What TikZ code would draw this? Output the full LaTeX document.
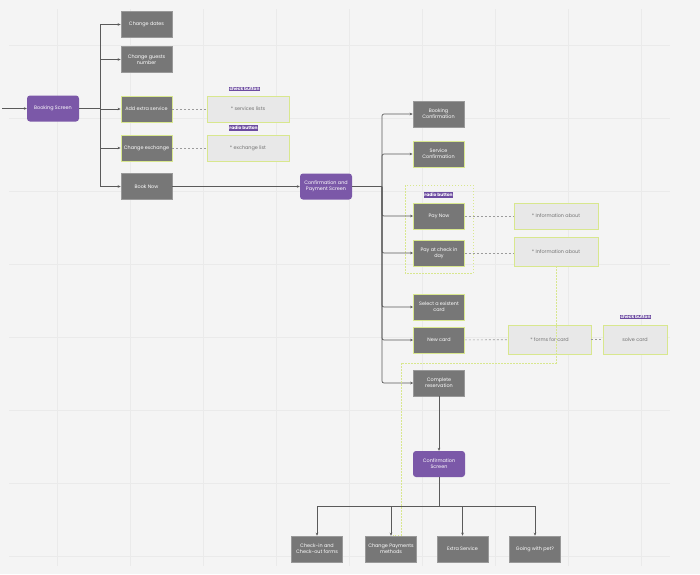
\documentclass[tikz,border=0pt]{standalone}
\usepackage{fontspec}
\setmainfont{Poppins}
\usetikzlibrary{arrows.meta, positioning}

\definecolor{bggray}{HTML}{F4F4F4}
\definecolor{gridgray}{HTML}{EAEAEA}
\definecolor{boxgray}{HTML}{777777}
\definecolor{screenpurple}{HTML}{7B58A8}
\definecolor{tagpurple}{HTML}{6C4BA0}
\definecolor{infofill}{HTML}{E8E8E8}
\definecolor{limeedge}{HTML}{D8E78E}
\definecolor{linegray}{HTML}{5A5A5A}
\definecolor{dashgray}{HTML}{9B9B9B}

\begin{document}
\begin{tikzpicture}[x=1pt, y=-1pt,
  every node/.style={font=\fontsize{4.9}{6}\selectfont, align=center, inner sep=1pt},
  screen/.style={fill=screenpurple, text=white, rounded corners=3pt, minimum width=52pt, minimum height=26pt},
  action/.style={fill=boxgray, draw=boxgray!75!white, line width=0.6pt, text=white, minimum width=51pt, minimum height=26pt},
  picked/.style={action, draw=limeedge, line width=0.9pt},
  info/.style={fill=infofill, draw=limeedge, line width=0.8pt, text=black!55, minimum width=82pt, minimum height=26pt},
  tag/.style={fill=tagpurple, text=white, font=\fontsize{4.4}{4.6}\selectfont\bfseries, inner sep=0.8pt},
  flow/.style={draw=linegray, line width=0.7pt, -{Stealth[length=3pt, width=2.6pt]}},
  wire/.style={draw=linegray, line width=0.7pt},
  dashlink/.style={draw=dashgray, line width=0.6pt, dash pattern=on 2pt off 2pt},
  limelink/.style={draw=limeedge, line width=0.8pt, dash pattern=on 1.5pt off 1.5pt}]
\useasboundingbox (0,0) rectangle (700,574);

% Background and grid
\fill[bggray] (0,0) rectangle (700,574);
\foreach \gx in {57,130,...,643} \draw[gridgray, line width=0.5pt] (\gx,9) -- (\gx,566);
\foreach \gy in {45,118,...,556} \draw[gridgray, line width=0.5pt] (9,\gy) -- (670,\gy);

% Booking screen and its options
\node[screen] (booking) at (53,108.5) {Booking Screen};
\node[action] (dates) at (146.5,24.5) {Change dates};
\node[action] (guests) at (146.5,59.5) {Change guests\\number};
\node[picked] (extra) at (146.5,109) {Add extra service};
\node[picked] (exchange) at (146.5,148) {Change exchange};
\node[action] (booknow) at (146.5,186.5) {Book Now};

\node[tag] (checktagA) at (244.5,89) {check button};
\node[info] (services) at (248,109) {* services lists};
\node[tag] (radiotagA) at (243.5,128) {radio button};
\node[info] (exlist) at (248,148) {* exchange list};

% Payment screen and its options
\draw[limelink] (405,185) rectangle (473,273);
\node[tag] (radiotagB) at (438.5,195) {radio button};
\node[screen] (payment) at (326,186.5) {Confirmation and\\Payment Screen};
\node[action] (bookconf) at (438.5,114) {Booking\\Confirmation};
\node[picked] (servconf) at (438.5,154) {Service\\Confirmation};
\node[picked] (paynow) at (439,216) {Pay Now};
\node[picked] (paylater) at (439,253) {Pay at check in\\day};
\node[picked] (oldcard) at (439,307) {Select a existent\\card};
\node[picked] (newcard) at (439,340) {New card};
\node[action] (complete) at (439,383) {Complete\\reservation};

\node[info, minimum width=84pt] (infoA) at (556,216) {* Information about};
\node[info, minimum width=84pt, minimum height=29pt] (infoB) at (556,251.5) {* Information about};
\node[info, minimum width=83pt, minimum height=29pt] (forms) at (549.5,339.5) {* forms for card};
\node[tag] (checktagB) at (635.5,317) {check button};
\node[info, minimum width=64pt, minimum height=29pt] (solve) at (635,339.5) {solve card};

% Confirmation screen and final choices
\node[screen] (confirm) at (439,464) {Confirmation\\Screen};
\node[action] (checkin) at (317,549) {Check-in and\\Check-out forms};
\node[action] (changepay) at (391,549) {Change Payments\\methods};
\node[action] (extraserv) at (462.5,549) {Extra Service};
\node[action] (pet) at (535,549) {Going with pet?};

% Connectors
\coordinate (entry) at (2,108.5);
\coordinate (bookfork) at (100,108.5);
\draw[flow] (entry) -- (booking);
\draw[wire] (booking.east) -- (bookfork);
\foreach \t in {dates,guests,extra,exchange,booknow} \draw[flow] (bookfork) |- (\t.west);
\draw[flow] (booknow) -- (payment);

\coordinate (payfork) at (382,186.5);
\draw[wire] (payment.east) -- (payfork);
\foreach \t in {bookconf,servconf,paynow,paylater,oldcard,newcard,complete}
  \draw[flow, rounded corners=2pt] (payfork) |- (\t.west);

\draw[flow] (complete) -- (confirm);
\coordinate (endfork) at (439,506);
\draw[wire] (confirm.south) -- (endfork);
\foreach \t in {checkin,changepay,extraserv,pet} \draw[flow] (endfork) -| (\t.north);

% Dashed links to the details
\draw[dashlink] (extra) -- (services);
\draw[dashlink] (exchange) -- (exlist);
\draw[dashlink] (paynow) -- (infoA);
\draw[dashlink] (paylater.east) -- (paylater.east -| infoB.west);
\draw[dashlink] (newcard) -- (forms);
\draw[dashlink] (forms) -- (solve);
\draw[limelink] (infoB.south) |- (401,363) |- ([xshift=2pt]changepay.north);
\end{tikzpicture}
\end{document}
